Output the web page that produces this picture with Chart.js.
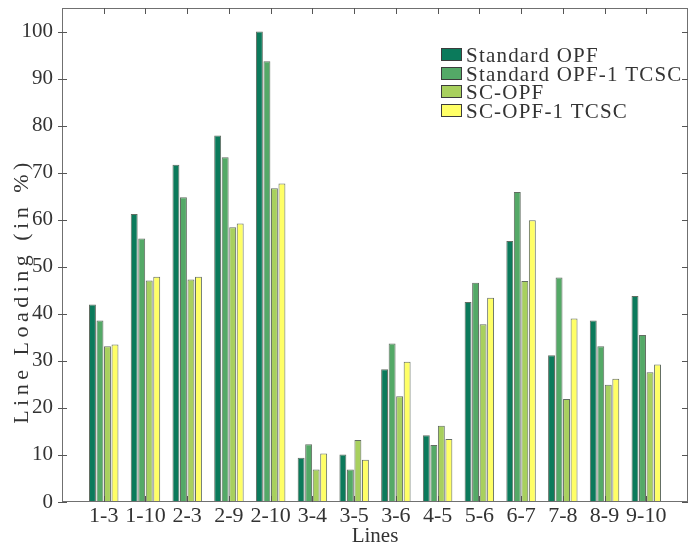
<!DOCTYPE html>
<html>
<head>
<meta charset="utf-8">
<script src="https://cdn.jsdelivr.net/npm/chart.js@4.4.1/dist/chart.umd.min.js"></script>
<style>
  html, body { margin: 0; padding: 0; background: #ffffff; }
  #wrap { width: 691px; height: 545px; }
</style>
</head>
<body>
<div id="wrap"><canvas id="c" width="691" height="545"></canvas></div>
<script>
// ---- data ----
const lines = ['1-3','1-10','2-3','2-9','2-10','3-4','3-5','3-6','4-5','5-6','6-7','7-8','8-9','9-10'];
const standardOPF     = [42.0, 61.2, 71.7, 77.9, 100.0, 9.4, 10.1, 28.2, 14.2, 42.5, 55.5, 31.2, 38.6, 43.8];
const standardOPFTCSC = [38.6, 56.0, 64.8, 73.3, 93.7, 12.3, 6.9, 33.7, 12.1, 46.6, 65.9, 47.7, 33.1, 35.5];
const scOPF           = [33.1, 47.1, 47.3, 58.4, 66.7, 6.9, 13.2, 22.5, 16.2, 37.8, 47.0, 21.9, 24.9, 27.6];
const scOPFTCSC       = [33.5, 47.9, 47.9, 59.2, 67.7, 10.3, 9.0, 29.8, 13.4, 43.4, 59.9, 39.0, 26.2, 29.2];
const seriesNames = ['Standard OPF', 'Standard OPF-1 TCSC', 'SC-OPF', 'SC-OPF-1 TCSC'];
const yTickValues = [0, 10, 20, 30, 40, 50, 60, 70, 80, 90, 100];
const yTitle = 'Line Loading (in %)';
const xTitle = 'Lines';

// ---- styles ----
const colors = ['#0B7A5B', '#54A967', '#A8D05E', '#FFFF66'];
const FONT = "'Liberation Serif', 'Times New Roman', serif";
const TEXT = '#333333';

// pad one empty slot on each side (axis runs 0..15 like the original)
const labels = [''].concat(lines, ['']);
const pad = arr => [null].concat(arr, [null]);
const allSeries = [standardOPF, standardOPFTCSC, scOPF, scOPFTCSC];

const datasets = allSeries.map((s, i) => ({
  label: seriesNames[i],
  data: pad(s),
  backgroundColor: colors[i],
  borderColor: 'rgba(45,60,45,0.75)',
  borderWidth: 1,
  borderSkipped: 'bottom',
  categoryPercentage: 0.72,
  barPercentage: 0.92
}));

const framePlugin = {
  id: 'frame',
  afterDraw(chart) {
    const ctx = chart.ctx;
    const a = chart.chartArea;
    const xs = chart.scales.x, ys = chart.scales.y;
    ctx.save();
    // box
    ctx.strokeStyle = '#707070';
    ctx.lineWidth = 1;
    ctx.strokeRect(Math.round(a.left) + 0.5, Math.round(a.top) + 0.5,
                   Math.round(a.right - a.left) - 1, Math.round(a.bottom - a.top) - 1);
    // y ticks (left: crossing, right: inward)
    ctx.strokeStyle = '#555555';
    ctx.beginPath();
    yTickValues.forEach(v => {
      const y = Math.round(ys.getPixelForValue(v)) + 0.5;
      ctx.moveTo(a.left - 4, y); ctx.lineTo(a.left + 5, y);
      ctx.moveTo(a.right - 6, y); ctx.lineTo(a.right, y);
    });
    // x ticks at each category (top and bottom, inward)
    lines.forEach((_, i) => {
      const x = Math.round(xs.getPixelForValue(i + 1)) + 0.5;
      ctx.moveTo(x, a.top); ctx.lineTo(x, a.top + 6);
      ctx.moveTo(x, a.bottom - 6); ctx.lineTo(x, a.bottom);
    });
    ctx.stroke();

    // y-axis title (letter-spaced like the original)
    ctx.fillStyle = TEXT;
    ctx.font = '22px ' + FONT;
    ctx.translate(22, 291);
    ctx.rotate(-Math.PI / 2);
    try { ctx.letterSpacing = '4.5px'; } catch (e) {}
    ctx.textAlign = 'center';
    ctx.textBaseline = 'middle';
    ctx.fillText(yTitle, 0, 0);
    ctx.restore();

    // legend inside plot
    ctx.save();
    ctx.font = '21px ' + FONT;
    try { ctx.letterSpacing = '1.2px'; } catch (e) {}
    ctx.textAlign = 'left';
    ctx.textBaseline = 'alphabetic';
    const lx = 441, ly = 48, rowH = 18.6, sw = 21, sh = 13;
    chart.data.datasets.forEach((ds, i) => {
      const y = Math.round(ly + i * rowH);
      ctx.fillStyle = ds.backgroundColor;
      ctx.fillRect(lx, y, sw, sh);
      ctx.strokeStyle = '#3c3c3c';
      ctx.lineWidth = 1;
      ctx.strokeRect(lx + 0.5, y + 0.5, sw - 1, sh - 1);
      ctx.fillStyle = TEXT;
      ctx.fillText(ds.label, lx + 25, y + 13.5);
    });
    ctx.restore();
  }
};

new Chart(document.getElementById('c'), {
  type: 'bar',
  data: { labels, datasets },
  options: {
    responsive: false,
    devicePixelRatio: 1,
    animation: false,
    layout: { padding: { left: 0, top: 8, right: 3, bottom: 0 } },
    plugins: { legend: { display: false }, tooltip: { enabled: false } },
    scales: {
      x: {
        type: 'category',
        offset: false,
        grid: { display: false, drawTicks: false, offset: false },
        border: { display: false },
        ticks: {
          autoSkip: false, maxRotation: 0, minRotation: 0, padding: 1,
          color: TEXT, font: { family: FONT, size: 22 }
        },
        title: {
          display: true, text: xTitle, color: TEXT,
          font: { family: FONT, size: 21, lineHeight: 0.8 },
          padding: { top: 0, bottom: 0 }
        },
        afterFit(scale) {
          scale.height = 43;
          scale.paddingLeft = 0; scale.paddingRight = 0;
        }
      },
      y: {
        min: 0, max: 105,
        grid: { display: false, drawTicks: false },
        border: { display: false },
        ticks: {
          stepSize: 10, padding: 9,
          color: TEXT, font: { family: FONT, size: 21 }
        },
        afterBuildTicks(scale) {
          scale.ticks = yTickValues.map(v => ({ value: v }));
        },
        afterFit(scale) {
          scale.width = 62;
          scale.paddingTop = 0; scale.paddingBottom = 0;
        }
      }
    }
  },
  plugins: [framePlugin]
});
</script>
</body>
</html>
